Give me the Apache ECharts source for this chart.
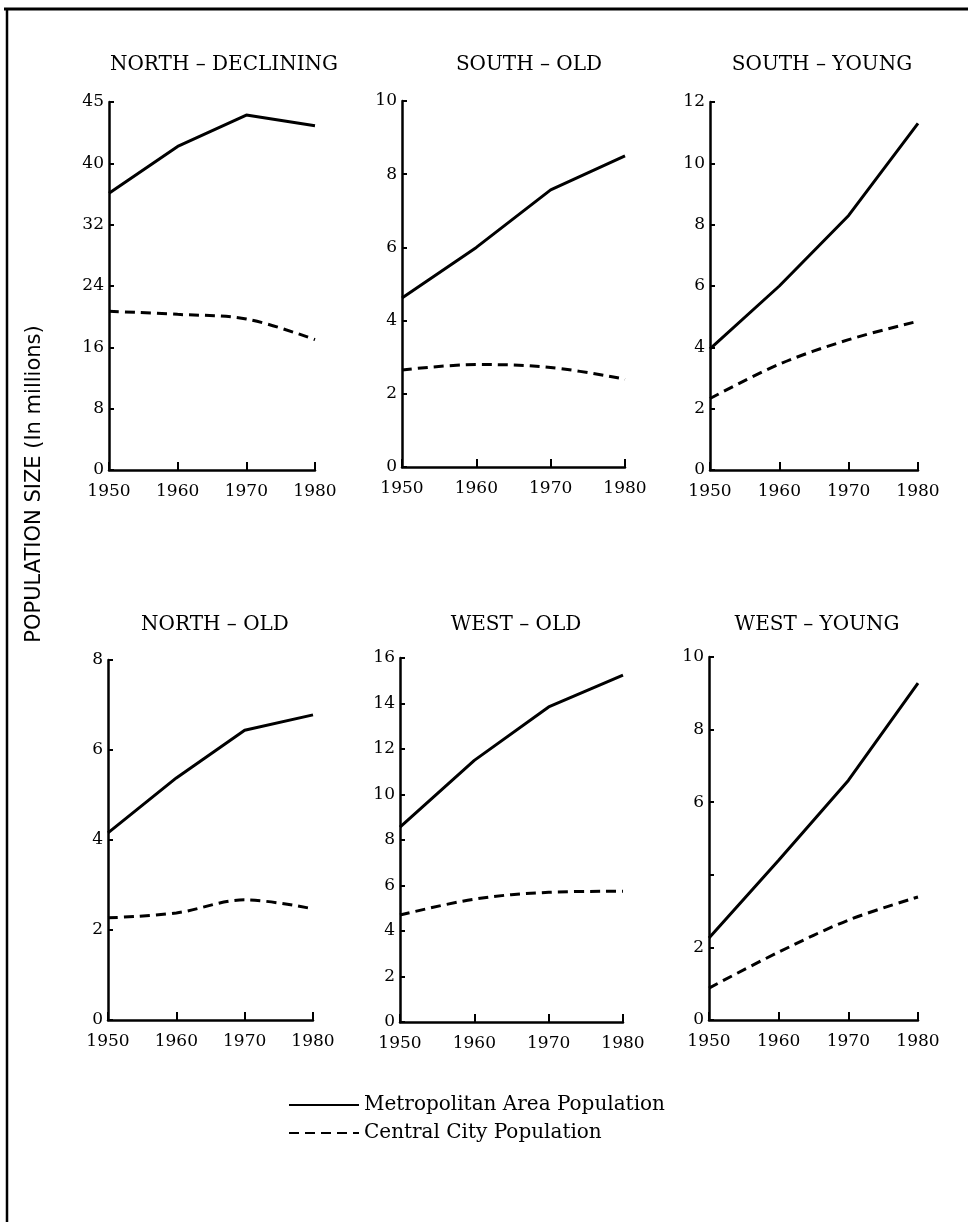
<!DOCTYPE html>
<html>
<head>
<meta charset="utf-8">
<script src="https://cdn.jsdelivr.net/npm/echarts@6/dist/echarts.min.js"></script>
<style>
  html, body { margin: 0; padding: 0; background: #fff; }
  #chart { width: 968px; height: 1222px; }
</style>
</head>
<body>
<div id="chart"></div>
<script>
// ---- Data ----
const years = [1950, 1960, 1970, 1980];
const xTickLabels = ['1950', '1960', '1970', '1980'];
const panelTitles = ['NORTH – DECLINING', 'SOUTH – OLD', 'SOUTH – YOUNG', 'NORTH – OLD', 'WEST – OLD', 'WEST – YOUNG'];
const seriesNames = ['Metropolitan Area Population', 'Central City Population'];

const metroNorthDeclining = [36.1, 42.2, 46.3, 44.9];
const cityNorthDeclining  = [20.7, 20.3, 19.7, 17.0];
const metroSouthOld       = [4.62, 6.0, 7.57, 8.5];
const citySouthOld        = [2.65, 2.8, 2.72, 2.4];
const metroSouthYoung     = [3.95, 6.0, 8.3, 11.3];
const citySouthYoung      = [2.33, 3.45, 4.25, 4.85];
const metroNorthOld       = [4.16, 5.38, 6.44, 6.78];
const cityNorthOld        = [2.27, 2.38, 2.67, 2.47];
const metroWestOld        = [8.57, 11.5, 13.85, 15.25];
const cityWestOld         = [4.7, 5.4, 5.7, 5.75];
const metroWestYoung      = [2.26, 4.4, 6.6, 9.28];
const cityWestYoung       = [0.88, 1.87, 2.75, 3.39];

const yTickLabelsNorthDeclining = ['0', '8', '16', '24', '32', '40', '45'];
const yTickLabelsSouthOld       = ['0', '2', '4', '6', '8', '10'];
const yTickLabelsSouthYoung     = ['0', '2', '4', '6', '8', '10', '12'];
const yTickLabelsNorthOld       = ['0', '2', '4', '6', '8'];
const yTickLabelsWestOld        = ['0', '2', '4', '6', '8', '10', '12', '14', '16'];
const yTickLabelsWestYoung      = ['0', '2', '', '6', '8', '10'];

const yMax      = [48, 10, 12, 8, 16, 10];
const yInterval = [8, 2, 2, 2, 2, 2];

const metroData = [metroNorthDeclining, metroSouthOld, metroSouthYoung, metroNorthOld, metroWestOld, metroWestYoung];
const cityData  = [cityNorthDeclining, citySouthOld, citySouthYoung, cityNorthOld, cityWestOld, cityWestYoung];
const yTickLabels = [yTickLabelsNorthDeclining, yTickLabelsSouthOld, yTickLabelsSouthYoung, yTickLabelsNorthOld, yTickLabelsWestOld, yTickLabelsWestYoung];

// ---- Layout ----
const grids = [
  { left: 109, top: 102, width: 206, height: 368 },
  { left: 402, top: 101, width: 223, height: 366 },
  { left: 710, top: 102, width: 208, height: 368 },
  { left: 108, top: 660, width: 205, height: 360 },
  { left: 400, top: 658, width: 223, height: 364 },
  { left: 709, top: 657, width: 209, height: 363 }
];
const titlePos = [
  { x: 219, y: 50 }, { x: 524, y: 50 }, { x: 817, y: 50 },
  { x: 210, y: 610 }, { x: 511, y: 610 }, { x: 812, y: 610 }
];

const SERIF = '"DejaVu Serif", "Liberation Serif", serif';
const SANS = '"DejaVu Sans", "Liberation Sans", sans-serif';
const INK = '#000';

const option = {
  backgroundColor: '#fff',
  animation: false,
  title: panelTitles.map((t, i) => ({
    text: t,
    left: titlePos[i].x,
    top: titlePos[i].y,
    textAlign: 'center',
    textStyle: { fontFamily: SERIF, fontSize: 20, fontWeight: 'normal', color: INK }
  })),
  legend: {
    data: seriesNames,
    orient: 'vertical',
    left: 283,
    top: 1090,
    itemWidth: 70,
    itemHeight: 12,
    itemGap: 8,
    itemStyle: { opacity: 0 },
    textStyle: { fontFamily: SERIF, fontSize: 20, color: INK },
    selectedMode: false
  },
  grid: grids.map(g => Object.assign({ containLabel: false }, g)),
  xAxis: grids.map((g, i) => ({
    gridIndex: i,
    type: 'value',
    min: 1950, max: 1980, interval: 10,
    axisLine: { show: true, lineStyle: { color: INK, width: 2.5 } },
    axisTick: { show: true, inside: true, length: 8, lineStyle: { color: INK, width: 2 } },
    axisLabel: {
      fontFamily: SERIF, fontSize: 17, color: INK, margin: 13,
      formatter: (v) => xTickLabels[years.indexOf(v)] || ''
    },
    splitLine: { show: false }
  })),
  yAxis: grids.map((g, i) => ({
    gridIndex: i,
    type: 'value',
    min: 0, max: yMax[i], interval: yInterval[i],
    axisLine: { show: true, lineStyle: { color: INK, width: 2.5 } },
    axisTick: { show: true, inside: true, length: 5, lineStyle: { color: INK, width: 2 } },
    axisLabel: {
      fontFamily: SERIF, fontSize: 17, color: INK, margin: 5,
      formatter: (v, idx) => yTickLabels[i][idx]
    },
    splitLine: { show: false }
  })),
  graphic: [
    { type: 'line', shape: { x1: 4, y1: 9, x2: 968, y2: 9 }, style: { stroke: INK, lineWidth: 3 } },
    { type: 'line', shape: { x1: 7, y1: 8, x2: 7, y2: 1222 }, style: { stroke: INK, lineWidth: 2.5 } },
    {
      type: 'text', x: 35, y: 484, rotation: Math.PI / 2,
      style: {
        text: 'POPULATION SIZE (In millions)',
        fontFamily: SANS, fontSize: 21, fill: INK,
        textAlign: 'center', textVerticalAlign: 'middle'
      }
    }
  ],
  series: []
};

for (let i = 0; i < 6; i++) {
  option.series.push({
    name: seriesNames[0],
    type: 'line',
    xAxisIndex: i, yAxisIndex: i,
    data: years.map((y, k) => [y, metroData[i][k]]),
    symbol: 'none',
    smooth: false,
    lineStyle: { color: INK, width: 3, type: 'solid' },
    itemStyle: { color: INK }
  });
  option.series.push({
    name: seriesNames[1],
    type: 'line',
    xAxisIndex: i, yAxisIndex: i,
    data: years.map((y, k) => [y, cityData[i][k]]),
    symbol: 'none',
    smooth: 0.35,
    lineStyle: { color: INK, width: 3, type: [10, 6] },
    itemStyle: { color: INK }
  });
}

const chart = echarts.init(document.getElementById('chart'), null, { renderer: 'canvas' });
chart.setOption(option);
</script>
</body>
</html>
